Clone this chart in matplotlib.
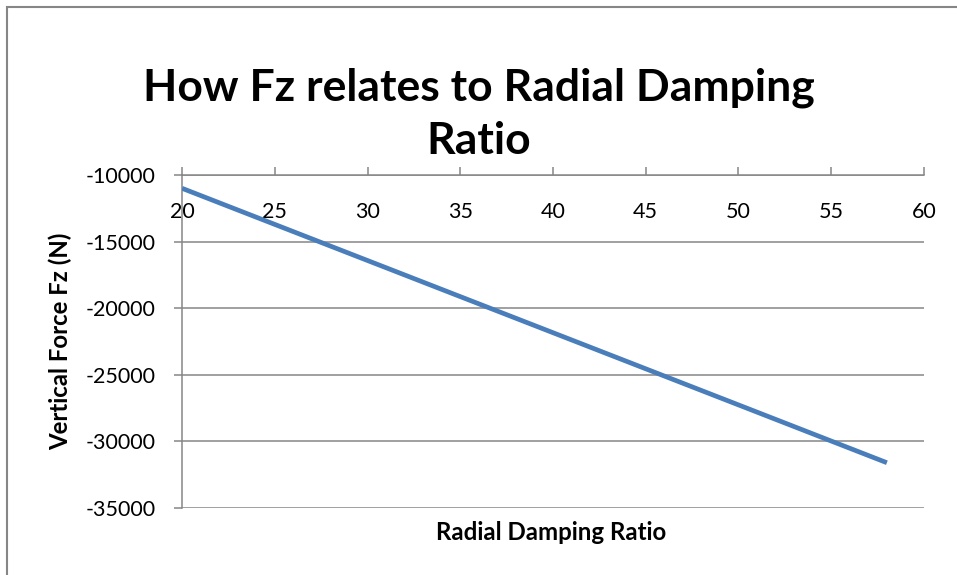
import matplotlib
matplotlib.use("Agg")
import matplotlib.pyplot as plt
from matplotlib.patches import Rectangle

# data
damping_ratio = [20, 30, 40, 50, 58]
vertical_force = [-11000, -16420, -21840, -27260, -31600]

x_ticks = [20, 25, 30, 35, 40, 45, 50, 55, 60]
y_ticks = [-35000, -30000, -25000, -20000, -15000, -10000]

plt.rcParams['font.family'] = ['Lato', 'DejaVu Sans']
plt.rcParams['axes.unicode_minus'] = False
grey = '#868686'

fig = plt.figure(figsize=(9.57, 5.75), dpi=100)
ax = fig.add_axes([0.1902, 0.1165, 0.7753, 0.5792])

ax.plot(damping_ratio, vertical_force, color='#4A7EBB', lw=3.4,
        solid_capstyle='butt', zorder=3)

ax.set_xlim(20, 60)
ax.set_ylim(-35000, -10000)
ax.set_xticks(x_ticks)
ax.set_yticks(y_ticks)
ax.grid(axis='y', color=grey, lw=1.1)
ax.set_axisbelow(True)

for s in ['right', 'bottom']:
    ax.spines[s].set_visible(False)
for s in ['left', 'top']:
    ax.spines[s].set_color(grey)
    ax.spines[s].set_linewidth(1.1)

# x axis sits at the top, labels hang below it
ax.tick_params(axis='x', top=True, bottom=False, labeltop=True,
               labelbottom=False, direction='out', length=6, width=1.1,
               color=grey, labelsize=15.5, pad=-40)
ax.tick_params(axis='y', direction='out', length=6, width=1.1,
               color=grey, labelsize=15.5, pad=13)

ax.set_ylabel('Vertical Force Fz (N)', fontsize=17.3, fontweight='bold')
ax.yaxis.set_label_coords(-0.148, 0.5)
fig.text(0.576, 0.074, 'Radial Damping Ratio', ha='center', va='center',
         fontsize=17.3, fontweight='bold')

fig.text(0.5, 0.847, 'How Fz relates to Radial Damping', ha='center',
         va='center', fontsize=32, fontweight='bold')
fig.text(0.5, 0.755, 'Ratio', ha='center', va='center',
         fontsize=32, fontweight='bold')

# chart frame
fig.patches.append(Rectangle((0.007, -0.01), 1.0, 0.998, transform=fig.transFigure,
                             fill=False, edgecolor=grey, lw=1.5))

fig.savefig('out.png', dpi=100)
